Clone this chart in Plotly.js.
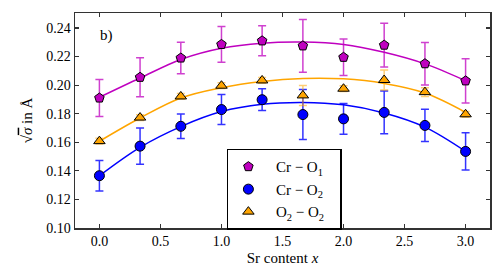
<!DOCTYPE html>
<html>
<head>
<meta charset="utf-8">
<script src="https://cdn.plot.ly/plotly-3.0.1.min.js"></script>
<style>html,body{margin:0;padding:0;background:#fff;}#chart{width:500px;height:266px;}</style>
</head>
<body>
<div id="chart"></div>
<script>
// Sr content x
const srContent = [0, 0.333, 0.667, 1, 1.333, 1.667, 2, 2.333, 2.667, 3];
// Cr - O1
const crO1 = [0.191, 0.2055, 0.219, 0.2285, 0.231, 0.2275, 0.2195, 0.228, 0.215, 0.203];
const crO1Err = [0.013, 0.0137, 0.011, 0.0125, 0.0105, 0.0185, 0.0128, 0.0153, 0.0149, 0.0155];
// Cr - O2
const crO2 = [0.1366, 0.1573, 0.1712, 0.1829, 0.1898, 0.1794, 0.1764, 0.1809, 0.1718, 0.1536];
const crO2Err = [0.0107, 0.0127, 0.0086, 0.0105, 0.0076, 0.0175, 0.0107, 0.015, 0.0113, 0.013];
// O2 - O2
const o2O2 = [0.1608, 0.1773, 0.1921, 0.1996, 0.2033, 0.1928, 0.1975, 0.2036, 0.1951, 0.1796];
const o2O2Err = [0.002, 0.002, 0.002, 0.002, 0.002, 0.007, 0.002, 0.007, 0.003, 0.002];
// fitted curves
const fitX = [0, 0.333, 0.667, 1, 1.333, 1.667, 2, 2.333, 2.667, 3];
const fitCrO1 = [0.1915, 0.2050, 0.2180, 0.2258, 0.2294, 0.2302, 0.2285, 0.2230, 0.2149, 0.2031];
const fitCrO2 = [0.1366, 0.1565, 0.1710, 0.1815, 0.1866, 0.1879, 0.1862, 0.1805, 0.1706, 0.1536];
const fitO2O2 = [0.1607, 0.1770, 0.1910, 0.1982, 0.2026, 0.2047, 0.2044, 0.2012, 0.1945, 0.1810];

const NB = '\u00A0';
const names = ['Cr − O<sub>1</sub>', 'Cr − O<sub>2</sub>', 'O<sub>2</sub> − O<sub>2</sub>'];
const colors = ['#bf00bf', '#0000ff', '#ffa500'];
const errColors = ['rgba(191,0,191,0.75)', 'rgba(0,0,255,0.8)', 'rgba(255,165,0,0.55)'];
const symbols = ['pentagon', 'circle', 'triangle-up'];
const sizes = [10, 10, 10];
const ys = [crO1, crO2, o2O2];
const errs = [crO1Err, crO2Err, o2O2Err];
const fits = [fitCrO1, fitCrO2, fitO2O2];

const traces = [];
for (let i = 0; i < 3; i++) {
  traces.push({
    x: fitX, y: fits[i], type: 'scatter', mode: 'lines',
    line: {color: colors[i], width: 1.5, shape: 'spline', smoothing: 1},
    showlegend: false, hoverinfo: 'skip'
  });
}
for (let i = 0; i < 3; i++) {
  traces.push({
    x: srContent, y: ys[i], type: 'scatter', mode: 'markers',
    name: NB + NB + names[i] + NB + NB + NB,
    marker: {symbol: symbols[i], size: sizes[i], color: colors[i], line: {color: '#000', width: 1}},
    error_y: {type: 'data', array: errs[i], visible: true, color: errColors[i], thickness: 1.5, width: 4}
  });
}

const font = {family: 'Liberation Serif, DejaVu Serif, serif', size: 14, color: '#000'};
const layout = {
  width: 500, height: 266,
  margin: {l: 75, r: 10, t: 13, b: 38},
  paper_bgcolor: '#fff', plot_bgcolor: '#fff',
  font: font,
  showlegend: true,
  xaxis: {
    range: [-0.2, 3.2], tickvals: [0, 0.5, 1, 1.5, 2, 2.5, 3], tickformat: '.1f',
    ticks: 'inside', ticklen: 4, tickwidth: 1.2, tickcolor: '#333',
    showline: true, linecolor: '#333', linewidth: 1.5, mirror: 'ticks',
    showgrid: false, zeroline: false,
    tickfont: {size: 14},
    title: {text: 'Sr content <i>x</i>', font: {size: 15}, standoff: 6}
  },
  yaxis: {
    range: [0.10, 0.2505], tickvals: [0.10, 0.12, 0.14, 0.16, 0.18, 0.20, 0.22, 0.24], tickformat: '.2f',
    ticks: 'inside', ticklen: 4, tickwidth: 1.2, tickcolor: '#333',
    showline: true, linecolor: '#333', linewidth: 1.5, mirror: 'ticks',
    showgrid: false, zeroline: false,
    tickfont: {size: 14},
    title: {text: '√<span style="text-decoration:overline"><i>σ</i></span> in Å', font: {size: 15}, standoff: 10}
  },
  legend: {
    x: 0.366, y: 0.368, xanchor: 'left', yanchor: 'top',
    bgcolor: '#fff', bordercolor: '#000', borderwidth: 1.5,
    font: {size: 15}, itemwidth: 30
  },
  annotations: [{
    text: 'b)', xref: 'paper', yref: 'paper', x: 0.076, y: 0.897,
    xanchor: 'center', yanchor: 'middle', showarrow: false, font: {size: 15}
  }]
};
Plotly.newPlot('chart', traces, layout, {staticPlot: true, displayModeBar: false});
</script>
</body>
</html>
